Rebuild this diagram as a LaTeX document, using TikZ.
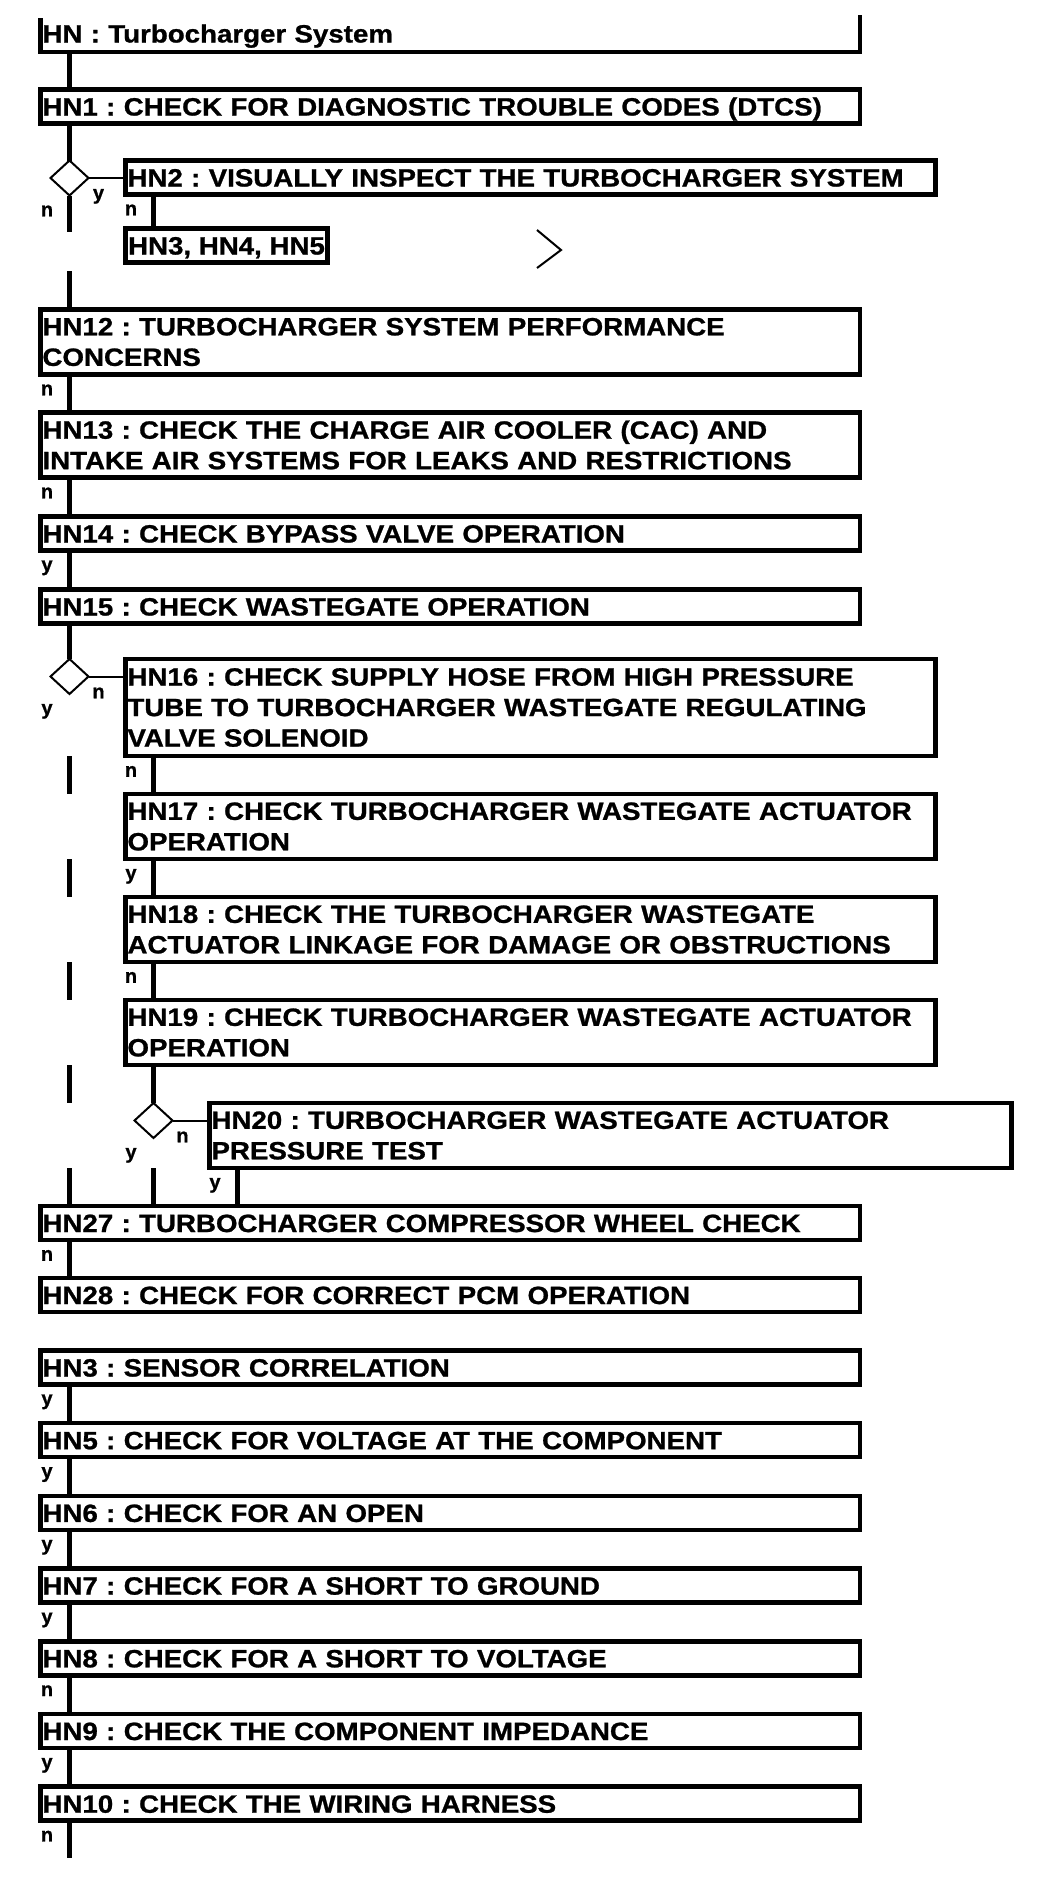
\documentclass[tikz,border=0pt]{standalone}
\usepackage{fontspec}
\setmainfont{Liberation Sans}[FakeStretch=1.107, BoldFeatures={FakeBold=1}]
\newfontfamily\tagfont{Liberation Sans}[BoldFeatures={FakeBold=1}]
\usepackage{tikz}
\usetikzlibrary{%
  shapes.geometric,
  positioning,
  calc}
\frenchspacing
\tikzset{
  %% Step boxes
  stepbox/.style={
    rectangle, draw=black, line width=4.5pt,
    inner xsep=2pt, inner ysep=0pt, outer sep=0pt,
    align=left, minimum height=34pt,
    font=\fontsize{25}{30.5}\selectfont\bfseries},
  mainbox/.style={stepbox, text width=815.5pt, minimum width=819.5pt},
  subbox/.style={stepbox, text width=806pt, minimum width=810pt},
  deepbox/.style={stepbox, text width=798pt, minimum width=802pt},
  oneline/.style={text height=18pt, text depth=0pt},
  %% Decision diamond
  choice/.style={
    diamond, draw=black, line width=2pt,
    minimum width=38pt, minimum height=35pt,
    inner sep=0pt, outer sep=0pt},
  %% Lines
  trunk/.style={line width=4.5pt, black},
  link/.style={line width=2pt, black},
  %% y / n tags
  tag/.style={font=\tagfont\bfseries\fontsize{20}{20}\selectfont,
    inner sep=0pt, outer sep=0pt},
  ltag/.style={tag, anchor=north, xshift=-22.5pt, yshift=-10pt},
  rtag/.style={tag, anchor=north, xshift=10pt, yshift=-11pt},
}

\begin{document}
\begin{tikzpicture}[x=1pt, y=-1pt]
  \useasboundingbox (0,0) rectangle (1056,1882);
  \coordinate (trk) at (69.5,0);
  \coordinate (sub) at (153.5,0);
  \coordinate (sub2) at (237.5,0);
  \coordinate (gapA) at (69.5,232);
  \coordinate (gapB) at (69.5,271);

  %% Header (open at the top)
  \node[mainbox, oneline, draw=none, minimum height=37pt, anchor=north west] (hn)
        at (40.5,15) {HN : Turbocharger System};
  \draw[trunk] ([yshift=-3pt]hn.north west) |- (hn.south east) -- (hn.north east);

  \node[mainbox, oneline, anchor=north west] (hn1) at (40.5,89.5)
        {HN1 : CHECK FOR DIAGNOSTIC TROUBLE CODES (DTCS)};

  \node[choice] (d1) at (69.5,178) {};

  \node[subbox, oneline, anchor=north west] (hn2) at (125.5,160.5)
        {HN2 : VISUALLY INSPECT THE TURBOCHARGER SYSTEM};

  \node[stepbox, oneline, minimum width=202pt,
        below=34pt of hn2.south west, anchor=north west] (grp)
        {HN3, HN4, HN5};

  \node[mainbox, minimum height=65pt, anchor=north west] (hn12) at (40.5,309.5)
        {HN12 : TURBOCHARGER SYSTEM PERFORMANCE\\CONCERNS};

  \node[mainbox, minimum height=65pt, below=38pt of hn12] (hn13)
        {HN13 : CHECK THE CHARGE AIR COOLER (CAC) AND\\INTAKE AIR SYSTEMS FOR LEAKS AND RESTRICTIONS};

  \node[mainbox, oneline, below=39pt of hn13] (hn14)
        {HN14 : CHECK BYPASS VALVE OPERATION};

  \node[mainbox, oneline, below=39pt of hn14] (hn15)
        {HN15 : CHECK WASTEGATE OPERATION};

  \node[choice] (d2) at (69.5,676.5) {};

  \node[subbox, minimum height=97pt, anchor=north west] (hn16) at (125.5,659)
        {HN16 : CHECK SUPPLY HOSE FROM HIGH PRESSURE\\TUBE TO TURBOCHARGER WASTEGATE REGULATING\\VALVE SOLENOID};

  \node[subbox, minimum height=65pt, below=38pt of hn16] (hn17)
        {HN17 : CHECK TURBOCHARGER WASTEGATE ACTUATOR\\OPERATION};

  \node[subbox, minimum height=65pt, below=38pt of hn17] (hn18)
        {HN18 : CHECK THE TURBOCHARGER WASTEGATE\\ACTUATOR LINKAGE FOR DAMAGE OR OBSTRUCTIONS};

  \node[subbox, minimum height=65pt, below=38pt of hn18] (hn19)
        {HN19 : CHECK TURBOCHARGER WASTEGATE ACTUATOR\\OPERATION};

  \node[choice] (d3) at (153.5,1120.5) {};

  \node[deepbox, minimum height=65pt, anchor=north west] (hn20) at (209.5,1103)
        {HN20 : TURBOCHARGER WASTEGATE ACTUATOR\\PRESSURE TEST};

  \node[mainbox, oneline, anchor=north west] (hn27) at (40.5,1206)
        {HN27 : TURBOCHARGER COMPRESSOR WHEEL CHECK};

  \node[mainbox, oneline, below=38pt of hn27] (hn28)
        {HN28 : CHECK FOR CORRECT PCM OPERATION};

  \node[mainbox, oneline, below=38.5pt of hn28] (hn3)
        {HN3 : SENSOR CORRELATION};

  \node[mainbox, oneline, below=38.7pt of hn3] (hn5)
        {HN5 : CHECK FOR VOLTAGE AT THE COMPONENT};

  \node[mainbox, oneline, below=38.7pt of hn5] (hn6)
        {HN6 : CHECK FOR AN OPEN};

  \node[mainbox, oneline, below=38.7pt of hn6] (hn7)
        {HN7 : CHECK FOR A SHORT TO GROUND};

  \node[mainbox, oneline, below=38.7pt of hn7] (hn8)
        {HN8 : CHECK FOR A SHORT TO VOLTAGE};

  \node[mainbox, oneline, below=38.7pt of hn8] (hn9)
        {HN9 : CHECK THE COMPONENT IMPEDANCE};

  \node[mainbox, oneline, below=38.7pt of hn9] (hn10)
        {HN10 : CHECK THE WIRING HARNESS};

  \coordinate (tail) at (69.5,1858);

  %% Main trunk
  \draw[trunk] (trk |- hn.south) -- (trk |- hn1.north);
  \draw[trunk] (trk |- hn1.south) -- (d1.north);
  \draw[trunk] (d1.south) -- (gapA);
  \draw[trunk] (gapB) -- (trk |- hn12.north);
  \draw[trunk] (trk |- hn12.south) -- (trk |- hn13.north);
  \draw[trunk] (trk |- hn13.south) -- (trk |- hn14.north);
  \draw[trunk] (trk |- hn14.south) -- (trk |- hn15.north);
  \draw[trunk] (trk |- hn15.south) -- (d2.north);
  \draw[trunk] (trk |- hn16.south) -- (trk |- hn17.north);
  \draw[trunk] (trk |- hn17.south) -- (trk |- hn18.north);
  \draw[trunk] (trk |- hn18.south) -- (trk |- hn19.north);
  \draw[trunk] (trk |- hn19.south) -- (trk |- d3.north);
  \draw[trunk] (trk |- hn20.south) -- (trk |- hn27.north);
  \draw[trunk] (trk |- hn27.south) -- (trk |- hn28.north);
  \draw[trunk] (trk |- hn3.south) -- (trk |- hn5.north);
  \draw[trunk] (trk |- hn5.south) -- (trk |- hn6.north);
  \draw[trunk] (trk |- hn6.south) -- (trk |- hn7.north);
  \draw[trunk] (trk |- hn7.south) -- (trk |- hn8.north);
  \draw[trunk] (trk |- hn8.south) -- (trk |- hn9.north);
  \draw[trunk] (trk |- hn9.south) -- (trk |- hn10.north);
  \draw[trunk] (trk |- hn10.south) -- (tail);

  %% Inner columns
  \draw[trunk] (sub |- hn2.south) -- (sub |- grp.north);
  \draw[trunk] (sub |- hn16.south) -- (sub |- hn17.north);
  \draw[trunk] (sub |- hn17.south) -- (sub |- hn18.north);
  \draw[trunk] (sub |- hn18.south) -- (sub |- hn19.north);
  \draw[trunk] (sub |- hn19.south) -- (d3.north);
  \draw[trunk] (sub |- hn20.south) -- (sub |- hn27.north);
  \draw[trunk] (sub2 |- hn20.south) -- (sub2 |- hn27.north);

  %% Decision links
  \draw[link] (d1.east) -- (d1.east -| hn2.west);
  \draw[link] (d2.east) -- (d2.east -| hn16.west);
  \draw[link] (d3.east) -- (d3.east -| hn20.west);

  %% Chevron mark
  \draw[link] (537,230) -- (561,250) -- (537,268);

  %% y / n tags
  \node[rtag] (t1y) at (d1.east) {y};
  \node[ltag] (t1n) at (d1.south) {n};
  \node[ltag] (t2n) at (sub |- hn2.south) {n};
  \node[ltag] (t12) at (trk |- hn12.south) {n};
  \node[ltag] (t13) at (trk |- hn13.south) {n};
  \node[ltag] (t14) at (trk |- hn14.south) {y};
  \node[rtag] (t15n) at (d2.east) {n};
  \node[ltag] (t15y) at (d2.south) {y};
  \node[ltag] (t16) at (sub |- hn16.south) {n};
  \node[ltag] (t17) at (sub |- hn17.south) {y};
  \node[ltag] (t18) at (sub |- hn18.south) {n};
  \node[rtag] (t19n) at (d3.east) {n};
  \node[ltag] (t19y) at (d3.south) {y};
  \node[ltag] (t20) at (sub2 |- hn20.south) {y};
  \node[ltag] (t27) at (trk |- hn27.south) {n};
  \node[ltag] (t3) at (trk |- hn3.south) {y};
  \node[ltag] (t5) at (trk |- hn5.south) {y};
  \node[ltag] (t6) at (trk |- hn6.south) {y};
  \node[ltag] (t7) at (trk |- hn7.south) {y};
  \node[ltag] (t8) at (trk |- hn8.south) {n};
  \node[ltag] (t9) at (trk |- hn9.south) {y};
  \node[ltag] (t10) at (trk |- hn10.south) {n};

\end{tikzpicture}
\end{document}
